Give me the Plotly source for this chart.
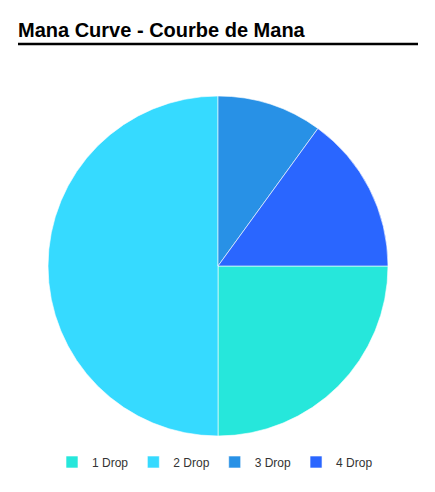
import plotly.graph_objects as go

# mana curve data
labels = ["1 Drop", "2 Drop", "3 Drop", "4 Drop"]
counts = [5, 10, 2, 3]
colors = ["#26E7DB", "#36DAFF", "#2891E6", "#2A66FF"]

# page body keeps its default 8px margin, so work in the visible area
OFF = 8
W, H = 435 - OFF, 492 - OFF


def px(x):
    return (x - OFF) / W


def py(y):
    return 1 - (y - OFF) / H


fig = go.Figure(go.Pie(
    labels=labels,
    values=counts,
    sort=False,
    direction="clockwise",
    rotation=90,
    textinfo="none",
    marker=dict(colors=colors, line=dict(color="rgba(255,255,255,0.6)", width=1)),
    domain=dict(x=[px(48), px(388)], y=[py(436), py(96)]),
))

fig.update_layout(
    width=W, height=H,
    margin=dict(l=0, r=0, t=0, b=0),
    paper_bgcolor="white",
    font=dict(family="Liberation Sans, Arial, sans-serif", color="#222"),
    showlegend=True,
    legend=dict(
        orientation="h",
        x=px(215), xanchor="center",
        y=py(462), yanchor="middle",
        font=dict(size=12, color="#333"),
        itemwidth=30,
    ),
    annotations=[dict(
        text="<b>Mana Curve - Courbe de Mana</b>",
        x=px(16), y=py(30),
        xref="paper", yref="paper",
        xanchor="left", yanchor="middle",
        showarrow=False,
        font=dict(size=20, color="black"),
    )],
    shapes=[dict(
        type="line", xref="paper", yref="paper",
        x0=px(18), x1=px(418), y0=py(44), y1=py(44),
        line=dict(color="black", width=2.5),
    )],
)

fig.write_html("out.html")
